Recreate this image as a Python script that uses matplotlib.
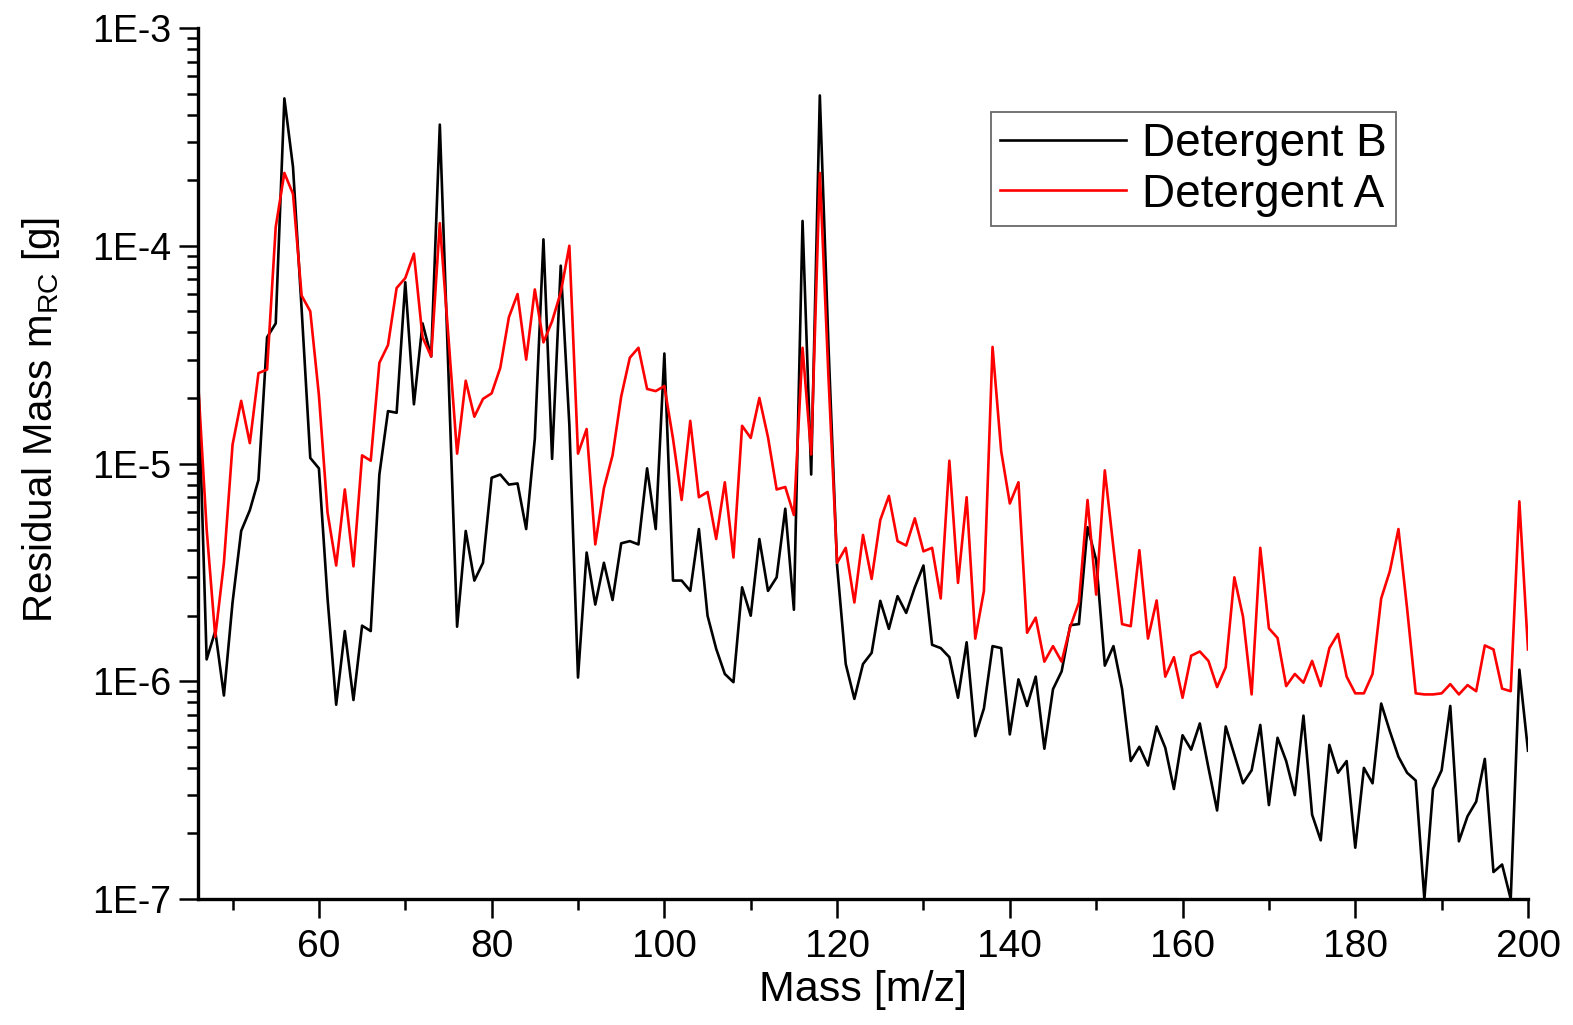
import numpy as np
import matplotlib
matplotlib.use("Agg")
import matplotlib.pyplot as plt
from matplotlib.ticker import FixedLocator, FixedFormatter, NullFormatter

# mass axis, one point per integer m/z
mass = np.arange(46, 201)

# Detergent B (black), residual mass in g
det_b = [
    2.7e-5, 1.26e-6, 1.7e-6, 8.6e-7, 2.3e-6, 4.9e-6, 6.1e-6, 8.4e-6, 3.8e-5, 4.4e-5,   # 46-55
    4.75e-4, 2.3e-4, 5.1e-5, 1.06e-5, 9.5e-6, 2.4e-6, 7.8e-7, 1.7e-6, 8.2e-7, 1.8e-6,  # 56-65
    1.7e-6, 8.9e-6, 1.74e-5, 1.71e-5, 6.8e-5, 1.87e-5, 4.4e-5, 3.1e-5, 3.6e-4, 2.6e-5,  # 66-75
    1.78e-6, 4.9e-6, 2.9e-6, 3.5e-6, 8.6e-6, 8.9e-6, 8.0e-6, 8.1e-6, 5.0e-6, 1.3e-5,   # 76-85
    1.07e-4, 1.05e-5, 8.1e-5, 1.5e-5, 1.04e-6, 3.9e-6, 2.25e-6, 3.5e-6, 2.36e-6, 4.3e-6,  # 86-95
    4.4e-6, 4.25e-6, 9.5e-6, 5.0e-6, 3.2e-5, 2.9e-6, 2.9e-6, 2.6e-6, 5.0e-6, 2.0e-6,   # 96-105
    1.41e-6, 1.08e-6, 9.9e-7, 2.7e-6, 2.0e-6, 4.5e-6, 2.6e-6, 3.0e-6, 6.2e-6, 2.13e-6,  # 106-115
    1.3e-4, 8.9e-6, 4.9e-4, 3.5e-5, 3.4e-6, 1.2e-6, 8.3e-7, 1.2e-6, 1.35e-6, 2.34e-6,  # 116-125
    1.74e-6, 2.46e-6, 2.06e-6, 2.7e-6, 3.4e-6, 1.47e-6, 1.42e-6, 1.29e-6, 8.4e-7, 1.51e-6,  # 126-135
    5.6e-7, 7.5e-7, 1.45e-6, 1.42e-6, 5.7e-7, 1.02e-6, 7.7e-7, 1.05e-6, 4.9e-7, 9.2e-7,  # 136-145
    1.11e-6, 1.81e-6, 1.83e-6, 5.1e-6, 3.6e-6, 1.18e-6, 1.45e-6, 9.2e-7, 4.3e-7, 5.0e-7,  # 146-155
    4.1e-7, 6.2e-7, 4.95e-7, 3.2e-7, 5.65e-7, 4.85e-7, 6.4e-7, 4.0e-7, 2.55e-7, 6.2e-7,  # 156-165
    4.6e-7, 3.4e-7, 3.9e-7, 6.3e-7, 2.7e-7, 5.5e-7, 4.3e-7, 3.0e-7, 6.95e-7, 2.44e-7,  # 166-175
    1.86e-7, 5.1e-7, 3.8e-7, 4.3e-7, 1.72e-7, 4.0e-7, 3.4e-7, 7.9e-7, 5.9e-7, 4.5e-7,  # 176-185
    3.8e-7, 3.5e-7, 1.0e-7, 3.2e-7, 3.9e-7, 7.7e-7, 1.84e-7, 2.4e-7, 2.8e-7, 4.4e-7,   # 186-195
    1.33e-7, 1.44e-7, 1.0e-7, 1.13e-6, 4.8e-7,                                          # 196-200
]

# Detergent A (red)
det_a = [
    2.4e-5, 5.0e-6, 1.6e-6, 3.5e-6, 1.22e-5, 1.94e-5, 1.24e-5, 2.6e-5, 2.7e-5, 1.22e-4,  # 46-55
    2.16e-4, 1.73e-4, 5.9e-5, 5.0e-5, 2.06e-5, 5.95e-6, 3.4e-6, 7.6e-6, 3.37e-6, 1.09e-5,  # 56-65
    1.03e-5, 2.9e-5, 3.5e-5, 6.4e-5, 7.1e-5, 9.2e-5, 3.8e-5, 3.1e-5, 1.27e-4, 3.8e-5,  # 66-75
    1.11e-5, 2.4e-5, 1.64e-5, 1.98e-5, 2.1e-5, 2.75e-5, 4.7e-5, 6.0e-5, 3.0e-5, 6.3e-5,  # 76-85
    3.6e-5, 4.5e-5, 6.1e-5, 1.0e-4, 1.11e-5, 1.44e-5, 4.25e-6, 7.7e-6, 1.09e-5, 2.03e-5,  # 86-95
    3.06e-5, 3.4e-5, 2.2e-5, 2.15e-5, 2.27e-5, 1.3e-5, 6.8e-6, 1.57e-5, 7.0e-6, 7.4e-6,  # 96-105
    4.5e-6, 8.2e-6, 3.7e-6, 1.49e-5, 1.31e-5, 2.0e-5, 1.32e-5, 7.6e-6, 7.8e-6, 5.8e-6,  # 106-115
    3.4e-5, 1.1e-5, 2.16e-4, 2.5e-5, 3.5e-6, 4.1e-6, 2.3e-6, 4.7e-6, 2.95e-6, 5.5e-6,  # 116-125
    7.1e-6, 4.4e-6, 4.2e-6, 5.6e-6, 3.95e-6, 4.1e-6, 2.4e-6, 1.03e-5, 2.83e-6, 7.0e-6,  # 126-135
    1.57e-6, 2.6e-6, 3.43e-5, 1.14e-5, 6.55e-6, 8.2e-6, 1.67e-6, 1.96e-6, 1.23e-6, 1.45e-6,  # 136-145
    1.23e-6, 1.78e-6, 2.3e-6, 6.8e-6, 2.5e-6, 9.3e-6, 4.1e-6, 1.83e-6, 1.79e-6, 4.0e-6,  # 146-155
    1.57e-6, 2.35e-6, 1.05e-6, 1.29e-6, 8.4e-7, 1.31e-6, 1.37e-6, 1.24e-6, 9.4e-7, 1.16e-6,  # 156-165
    3.0e-6, 1.98e-6, 8.7e-7, 4.1e-6, 1.75e-6, 1.58e-6, 9.5e-7, 1.08e-6, 9.85e-7, 1.24e-6,  # 166-175
    9.5e-7, 1.42e-6, 1.65e-6, 1.05e-6, 8.8e-7, 8.8e-7, 1.08e-6, 2.4e-6, 3.2e-6, 5.0e-6,  # 176-185
    2.16e-6, 8.8e-7, 8.7e-7, 8.7e-7, 8.8e-7, 9.7e-7, 8.7e-7, 9.6e-7, 9.0e-7, 1.46e-6,  # 186-195
    1.4e-6, 9.25e-7, 9.0e-7, 6.7e-6, 1.4e-6,                                            # 196-200
]

x_major = [60, 80, 100, 120, 140, 160, 180, 200]
x_minor = [50, 70, 90, 110, 130, 150, 170, 190]
y_major = [1e-7, 1e-6, 1e-5, 1e-4, 1e-3]
y_labels = ["1E-7", "1E-6", "1E-5", "1E-4", "1E-3"]

narrow = ["Liberation Sans Narrow", "Liberation Sans", "DejaVu Sans"]
wide = ["Liberation Sans", "DejaVu Sans"]

fig = plt.figure(figsize=(15.73, 10.25), dpi=100)
ax = fig.add_axes([198 / 1573, 1 - 899 / 1025, 1330 / 1573, 871 / 1025])

ax.plot(mass, det_b, color="black", lw=1.9, label="Detergent B")
ax.plot(mass, det_a, color="#ff0000", lw=1.9, label="Detergent A")

ax.set_yscale("log")
ax.set_xlim(46, 200)
ax.set_ylim(1e-7, 1e-3)

ax.xaxis.set_major_locator(FixedLocator(x_major))
ax.xaxis.set_minor_locator(FixedLocator(x_minor))
ax.yaxis.set_major_locator(FixedLocator(y_major))
ax.yaxis.set_major_formatter(FixedFormatter(y_labels))
y_minor = [k * 10.0 ** e for e in range(-7, -3) for k in range(2, 10)]
ax.yaxis.set_minor_locator(FixedLocator(y_minor))
ax.yaxis.set_minor_formatter(NullFormatter())

for s in ["top", "right"]:
    ax.spines[s].set_visible(False)
for s in ["left", "bottom"]:
    ax.spines[s].set_linewidth(2.4)

ax.tick_params(which="major", direction="out", length=13.5, width=1.8)
ax.tick_params(which="minor", direction="out", length=8, width=1.8)
ax.tick_params(axis="y", which="major", pad=6)
ax.tick_params(axis="x", which="major", pad=8)

for lab in ax.get_xticklabels():
    lab.set_fontfamily(narrow)
    lab.set_fontsize(28)
for lab in ax.get_yticklabels():
    lab.set_fontfamily(wide)
    lab.set_fontsize(27)

ax.set_xlabel("Mass [m/z]", family=narrow, fontsize=31, labelpad=4)
ax.set_ylabel("Residual Mass m$_{\\mathregular{RC}}$ [g]", family=narrow, fontsize=29)
ax.yaxis.set_label_coords(-0.102, 0.55)

leg = ax.legend(loc="upper right", bbox_to_anchor=(0.901, 0.903), borderaxespad=0,
                prop={"family": wide, "size": 33}, frameon=True, fancybox=False,
                handlelength=2.75, handletextpad=0.35, labelspacing=0.15,
                borderpad=0.2)
leg.get_frame().set_edgecolor("#444444")
leg.get_frame().set_linewidth(1.3)
for line in leg.get_lines():
    line.set_linewidth(1.9)

fig.savefig("out.png", dpi=100)
